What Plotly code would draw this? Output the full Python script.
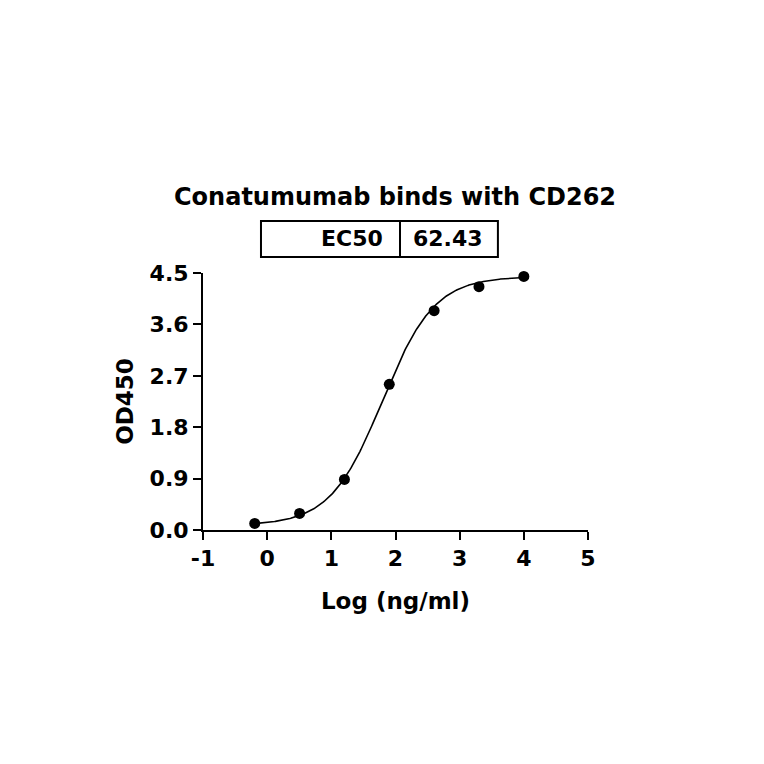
import numpy as np
import plotly.graph_objects as go

# ---- data ----
conc_ng_ml = [0.64, 3.2, 16, 80, 400, 2000, 10000]
log_conc = [float(np.log10(c)) for c in conc_ng_ml]
od450 = [0.115, 0.29, 0.886, 2.55, 3.84, 4.26, 4.44]
od450_err = [0.01, 0.02, 0.05, 0.03, 0.03, 0.02, 0.02]

# 4PL fit parameters
ec50 = 62.43
fit_bottom = 0.08
fit_top = 4.44
fit_hill = 1.07

title_text = "Conatumumab binds with CD262"
x_title = "Log (ng/ml)"
y_title = "OD450"
x_tickvals = [-1, 0, 1, 2, 3, 4, 5]
x_ticktext = ["-1", "0", "1", "2", "3", "4", "5"]
y_tickvals = [0.0, 0.9, 1.8, 2.7, 3.6, 4.5]
y_ticktext = ["0.0", "0.9", "1.8", "2.7", "3.6", "4.5"]

FONT = "DejaVu Sans"

xfit = np.linspace(min(log_conc), max(log_conc), 300)
yfit = fit_bottom + (fit_top - fit_bottom) / (1 + 10 ** ((np.log10(ec50) - xfit) * fit_hill))

fig = go.Figure()
fig.add_trace(go.Scatter(x=xfit, y=yfit, mode="lines",
                         line=dict(color="black", width=1.6),
                         hoverinfo="skip", showlegend=False))
fig.add_trace(go.Scatter(x=log_conc, y=od450, mode="markers",
                         marker=dict(color="black", size=11),
                         error_y=dict(type="data", array=od450_err, visible=True,
                                      color="black", thickness=1.5, width=4),
                         showlegend=False, cliponaxis=False))

axis_common = dict(showline=True, linewidth=2, linecolor="black", mirror=False,
                   ticks="outside", ticklen=8, tickwidth=2, tickcolor="black",
                   showgrid=False, zeroline=False,
                   tickfont=dict(family=FONT, size=22, color="black", weight="bold"))

fig.update_xaxes(range=[-1, 5], tickvals=x_tickvals, ticktext=x_ticktext, **axis_common,
                 title=dict(text=x_title, standoff=22,
                            font=dict(family=FONT, size=23, color="black", weight="bold")))
fig.update_yaxes(range=[0, 4.5], tickvals=y_tickvals, ticktext=y_ticktext, **axis_common,
                 title=dict(text=y_title, standoff=10,
                            font=dict(family=FONT, size=23, color="black", weight="bold")))

# EC50 box
box_l, box_div, box_r = 0.1506, 0.5117, 0.766
box_b, box_t = 1.062, 1.202
shapes = [
    dict(type="rect", xref="paper", yref="paper", x0=box_l, x1=box_r, y0=box_b, y1=box_t,
         line=dict(color="black", width=2)),
    dict(type="line", xref="paper", yref="paper", x0=box_div, x1=box_div, y0=box_b, y1=box_t,
         line=dict(color="black", width=2)),
]
annotations = [
    dict(text=title_text, xref="paper", yref="paper", x=0.499, y=1.296,
         xanchor="center", yanchor="middle", showarrow=False,
         font=dict(family=FONT, size=24, color="black", weight="bold")),
    dict(text="EC50", xref="paper", yref="paper", x=0.474, y=1.134,
         xanchor="right", yanchor="middle", showarrow=False,
         font=dict(family=FONT, size=22, color="black", weight="bold")),
    dict(text=f"{ec50:.2f}", xref="paper", yref="paper", x=0.637, y=1.134,
         xanchor="center", yanchor="middle", showarrow=False,
         font=dict(family=FONT, size=22, color="black", weight="bold")),
]

fig.update_layout(width=764, height=764, autosize=False,
                  margin=dict(l=195, r=184, t=265, b=242),
                  plot_bgcolor="white", paper_bgcolor="white",
                  shapes=shapes, annotations=annotations,
                  font=dict(family=FONT, color="black"))

fig.write_html("out.html")
